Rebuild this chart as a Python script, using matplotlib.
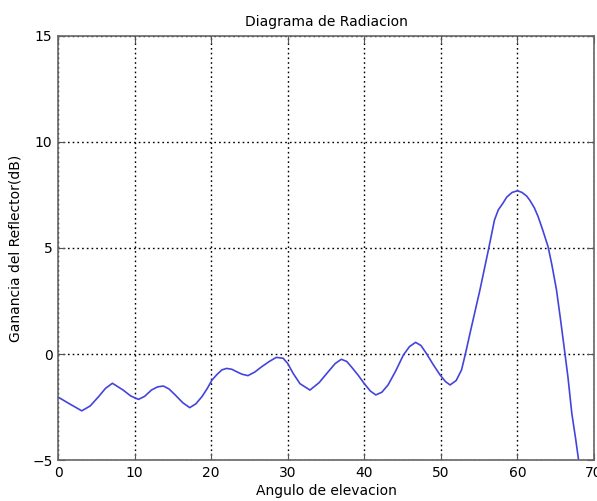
import numpy as np
import matplotlib
matplotlib.use("Agg")
import matplotlib.pyplot as plt

plt.rcParams['font.family'] = ['DejaVu Sans']

angulo = [0.0, 1.5, 3.1, 4.2, 5.3, 6.2, 7.1, 8.5, 9.5, 10.5, 11.3, 12.2, 13.0,
          13.75, 14.5, 15.3, 16.3, 17.2, 18.0, 18.8, 19.5, 20.1, 20.8, 21.4, 22.0,
          22.7, 23.3, 24.0, 24.8, 25.7, 26.6, 27.6, 28.5, 29.4, 30.0, 30.7, 31.6,
          32.9, 34.1, 35.3, 36.2, 37.0, 37.7, 38.3, 39.2, 40.0, 40.8, 41.5, 42.3,
          43.1, 44.1, 45.1, 45.9, 46.7, 47.4, 48.1, 49.0, 49.9, 50.6, 51.2, 52.0,
          52.7, 53.2, 53.8, 54.3, 55.1, 56.2, 57.0, 57.5, 58.1, 58.6, 59.3, 60.0,
          60.6, 61.2, 61.6, 62.2, 62.7, 63.3, 64.0, 64.5, 65.1, 65.6, 66.2, 66.6,
          67.1, 67.6, 68.1, 68.4]
ganancia = [-2.03, -2.35, -2.68, -2.45, -2.01, -1.62, -1.38, -1.70, -1.98, -2.14, -2.00,
            -1.70, -1.55, -1.51, -1.65, -1.93, -2.30, -2.53, -2.35, -2.01, -1.62, -1.23,
            -0.95, -0.75, -0.68, -0.72, -0.83, -0.95, -1.02, -0.85, -0.60, -0.35, -0.16,
            -0.20, -0.45, -0.91, -1.40, -1.70, -1.35, -0.83, -0.45, -0.25, -0.35, -0.60,
            -1.00, -1.40, -1.75, -1.93, -1.80, -1.46, -0.80, -0.05, 0.35, 0.55, 0.40,
            0.03, -0.50, -0.99, -1.30, -1.46, -1.25, -0.75, 0.00, 0.97, 1.76, 3.02,
            4.90, 6.32, 6.80, 7.11, 7.40, 7.62, 7.70, 7.62, 7.45, 7.26, 6.90, 6.48,
            5.85, 5.06, 4.20, 3.02, 1.70, 0.03, -1.10, -2.80, -4.00, -5.30, -6.30]

x_ticks = [0, 10, 20, 30, 40, 50, 60, 70]
y_ticks = [-5, 0, 5, 10, 15]

fig = plt.figure(figsize=(5.97, 5.01), dpi=100)
ax = fig.add_axes([0.0972, 0.0818, 0.8978, 0.8464])

ax.plot(angulo, ganancia, color='#4444dd', linewidth=1.2)

ax.set_xlim(0, 70)
ax.set_ylim(-5, 15)
ax.set_xticks(x_ticks)
ax.set_yticks(y_ticks)
ax.grid(True, color='black', linestyle=(0, (1.2, 2.2)), linewidth=1.0)
ax.tick_params(direction='in', top=True, right=True, length=5, labelsize=10,
               color='#555555', pad=4)
for s in ax.spines.values():
    s.set_color('#666666')
    s.set_linewidth(1.2)

ax.set_title('Diagrama de Radiacion', fontsize=10, pad=7)
ax.set_xlabel('Angulo de elevacion', fontsize=10, labelpad=3)
ax.set_ylabel('Ganancia del Reflector(dB)', fontsize=10, labelpad=7)

fig.savefig('out.png', dpi=100)
